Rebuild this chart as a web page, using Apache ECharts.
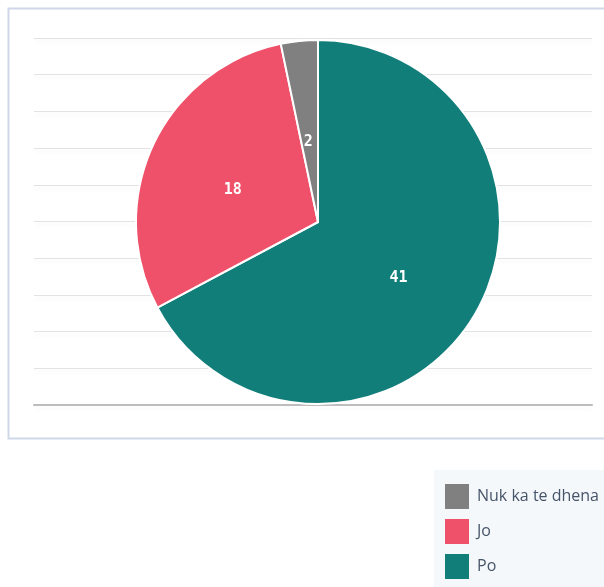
<!DOCTYPE html>
<html>
<head>
<meta charset="utf-8">
<script src="https://cdn.jsdelivr.net/npm/echarts@6/dist/echarts.min.js"></script>
<style>
	html, body { margin: 0; padding: 0; background: #fff; }
	#chart { width: 604px; height: 587px; }
</style>
</head>
<body>
<div id="chart"></div>
<script>
// data
const categories = ["Po", "Jo", "Nuk ka te dhena"]
const values = [41, 18, 2]
const colors = ["#127e7a", "#ee5169", "#808080"]
const legendOrder = ["Nuk ka te dhena", "Jo", "Po"]
// empty background axis, 10 bands
const yTicks = [0, 1, 2, 3, 4, 5, 6, 7, 8, 9, 10]

// labels in the reference sit a bit low, the thin slice more so
const labelOffsets = { "Nuk ka te dhena": [0, 14] }

const chart = echarts.init(document.getElementById("chart"))

chart.setOption({
	animation: false,
	graphic: [
		{
			// outer frame, open on the right (runs off the page)
			type: "polyline",
			shape: { points: [[604, 8.5], [8.5, 8.5], [8.5, 438.5], [604, 438.5]] },
			style: { fill: null, stroke: "#cfd7e8", lineWidth: 2 },
			z: -10,
		},
		{
			// legend panel
			type: "rect",
			shape: { x: 434, y: 470, width: 180, height: 130 },
			style: { fill: "#f5f8fa" },
			z: -10,
		},
	],
	grid: {
		top: 38,
		bottom: 182,
		left: 34,
		right: 12,
	},
	xAxis: {
		type: "category",
		data: [""],
		axisLine: { lineStyle: { color: "#bdbdbd", width: 2 } },
		axisTick: { show: false },
		axisLabel: { show: false },
	},
	yAxis: {
		type: "value",
		min: yTicks[0],
		max: yTicks[yTicks.length - 1],
		interval: 1,
		axisLine: { show: false },
		axisTick: { show: false },
		axisLabel: { show: false },
		splitLine: {
			lineStyle: {
				color: "#e3e3e3",
				width: 1,
				shadowColor: "rgba(0,0,0,0.07)",
				shadowBlur: 4,
				shadowOffsetY: 3,
			},
		},
	},
	legend: {
		orient: "vertical",
		left: 445,
		top: 484,
		height: 110,
		padding: 0,
		itemWidth: 24,
		itemHeight: 25,
		itemGap: 10,
		icon: "rect",
		itemStyle: { borderWidth: 0 },
		data: legendOrder,
		textStyle: {
			color: "#46546a",
			fontSize: 16,
			fontFamily: "Open Sans",
			padding: [0, 0, 0, 3],
		},
	},
	series: [
		{
			type: "pie",
			center: [318, 222],
			radius: 182,
			startAngle: 90,
			clockwise: true,
			z: 5,
			itemStyle: {
				borderColor: "#fff",
				borderWidth: 2,
			},
			label: {
				show: true,
				position: "inside",
				formatter: "{c}",
				color: "#fff",
				fontFamily: "DejaVu Sans Mono",
				fontWeight: "bold",
				fontSize: 15,
				offset: [0, 8],
			},
			labelLine: { show: false },
			data: categories.map((name, i) => ({
				name,
				value: values[i],
				itemStyle: { color: colors[i] },
				label: labelOffsets[name] ? { offset: labelOffsets[name] } : undefined,
			})),
		},
	],
})
</script>
</body>
</html>
